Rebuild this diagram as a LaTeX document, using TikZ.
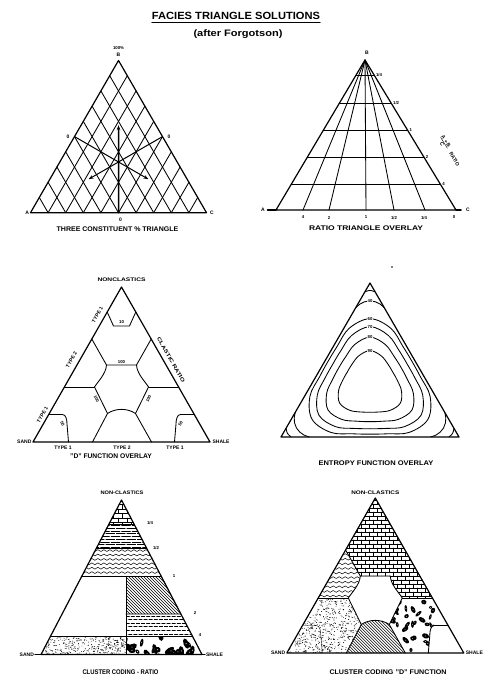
\documentclass[tikz,border=0pt]{standalone}
\usepackage{fontspec}
\setmainfont{Liberation Sans}
\usepackage{graphicx}
\usetikzlibrary{calc,arrows.meta,decorations.pathmorphing}
\newcommand\fitt[3]{\resizebox{#1pt}{#2pt}{\bfseries #3}}
\newcommand\fitn[3]{\resizebox{#1pt}{#2pt}{#3}}
\newcommand\brickrows[6]{%
  \foreach \k in {0,...,#4}{%
    \draw[pat] (#1,{#3+\k*#5}) -- (#2,{#3+\k*#5});
    \pgfmathsetmacro\off{mod(\k,2)*#6/2}%
    \foreach \j in {0,...,26}{%
      \draw[pat] ({#1+\off+\j*#6},{#3+\k*#5}) -- ++(0,#5);
    }%
  }}
\newcommand\wavy[5]{%
  \foreach \k in {0,...,#4}{%
    \draw[pat,line width=0.5pt,decorate,decoration={snake,amplitude=0.9pt,segment length=6pt}]
      (#1,{#3+\k*#5}) -- (#2,{#3+\k*#5});
  }}
\newcommand\dashrows[7]{%
  \foreach \k in {0,...,#4}{%
    \pgfmathsetmacro\ph{mod(\k,2)*(#6+#7)/2}%
    \draw[pat,line width=0.5pt,dash pattern=on #6pt off #7pt,dash phase=\ph pt]
      (#1,{#3+\k*#5}) -- (#2,{#3+\k*#5});
  }}
\newcommand\hatchnw[5]{%
  \foreach \k in {0,...,#3}{%
    \draw[pat,line width=0.5pt] ({#1+\k*#4},#2) -- ++(#5,#5);
  }}
\newcommand\stip[6]{%
  \foreach \k in {1,...,#5}{%
    \pgfmathsetmacro\px{#1+rnd*(#2-#1)}%
    \pgfmathsetmacro\py{#3+rnd*(#4-#3)}%
    \fill (\px,\py) circle (0.45);
  }%
  \foreach \k in {1,...,#6}{%
    \pgfmathsetmacro\px{#1+rnd*(#2-#1)}%
    \pgfmathsetmacro\py{#3+rnd*(#4-#3)}%
    \draw[pat] (\px,\py) -- ++(1.6,0.6);
  }}
\newcommand\blobs[6]{%
  \foreach \k in {1,...,#5}{%
    \pgfmathsetmacro\px{#1+rnd*(#2-#1)}%
    \pgfmathsetmacro\py{#3+rnd*(#4-#3)}%
    \pgfmathsetmacro\rx{(1.5+rnd*2.3)*#6}%
    \pgfmathsetmacro\ry{(0.9+rnd*1.3)*#6}%
    \pgfmathsetmacro\an{rnd*180}%
    \fill[rotate around={\an:(\px,\py)}] (\px,\py) ellipse [x radius=\rx, y radius=\ry];
    \fill[white] (\px,\py) circle ({0.35*#6});
  }}
\newcommand\dgeom[1]{%
  \coordinate (#1T) at (0,-155); \coordinate (#1L) at (-88.5,0); \coordinate (#1R) at (88.5,0);
  \coordinate (#1tl) at (-14.3,-130); \coordinate (#1tli) at (-8,-116);
  \coordinate (#1tri) at (8,-116); \coordinate (#1tr) at (14.3,-130);
  \coordinate (#1s1) at (-29.7,-103); \coordinate (#1h1) at (-15,-77);
  \coordinate (#1h2) at (15,-77); \coordinate (#1r1) at (29.7,-103);
  \coordinate (#1s2) at (-57.1,-55); \coordinate (#1h3) at (-27,-55);
  \coordinate (#1h4) at (27,-55); \coordinate (#1r2) at (57.1,-55);
  \coordinate (#1h5) at (-14,-28.5); \coordinate (#1h6) at (14,-28.5);
  \coordinate (#1b5) at (-29,0); \coordinate (#1b6) at (30,0);
  \coordinate (#1s3) at (-72.8,-27.5); \coordinate (#1c1) at (-59,-27.5);
  \coordinate (#1c2) at (-54.5,-18); \coordinate (#1c3) at (-53,0);
  \coordinate (#1r3) at (72.8,-27.5); \coordinate (#1c4) at (59,-27.5);
  \coordinate (#1c5) at (54.5,-18); \coordinate (#1c6) at (53,0);
}
% rounded-triangle contour in polar samples: radii at 0,20,40,60 deg from a vertex
\newcommand\entloop[4]{\draw[gridl] plot[smooth cycle, tension=0.6] coordinates {(10:#2) (30:#1) (50:#2) (70:#3) (90:#4) (110:#3) (130:#2) (150:#1) (170:#2) (190:#3) (210:#4) (230:#3) (250:#2) (270:#1) (290:#2) (310:#3) (330:#4) (350:#3)};}
\newcommand\entarc[3]{%
  \draw[gridl] plot[smooth,tension=0.7] coordinates {
    (barycentric cs:#1=0.84,#2=0.16,#3=0.0001)
    (barycentric cs:#1=0.864,#2=0.1236,#3=0.0124)
    (barycentric cs:#1=0.878,#2=0.0915,#3=0.0305)
    (barycentric cs:#1=0.884,#2=0.058,#3=0.058)
    (barycentric cs:#1=0.878,#2=0.0305,#3=0.0915)
    (barycentric cs:#1=0.864,#2=0.0124,#3=0.1236)
    (barycentric cs:#1=0.84,#2=0.0001,#3=0.16)};
  \draw[gridl] (barycentric cs:#1=0.943,#2=0.057,#3=0.0001) .. controls (barycentric cs:#1=0.955,#2=0.0225,#3=0.0225) .. (barycentric cs:#1=0.943,#2=0.0001,#3=0.057);
}
\begin{document}
\begin{tikzpicture}[x=1pt,y=-1pt,line join=round,line cap=round,
  triline/.style={line width=1.2pt},
  gridl/.style={line width=0.85pt},
  pat/.style={line width=0.4pt},
  lbl/.style={font=\fontsize{5}{5}\selectfont\bfseries,inner sep=0.4pt},
  num/.style={font=\fontsize{4.3}{4.3}\selectfont\bfseries,inner sep=0.3pt},
  arrowtip/.style={-{Stealth[length=5pt,width=3.6pt]}},
]
\useasboundingbox (0,0) rectangle (490,682);
\fill[white] (0,0) rectangle (490,682);
\pgfmathsetseed{4711}

% ---------- title ----------
\node[inner sep=0pt,anchor=base] (title) at (236,20) {\fitt{168}{7.3}{FACIES TRIANGLE SOLUTIONS}};
\draw[line width=0.8pt] ($(title.base west)+(0,2)$) -- ($(title.base east)+(0,2)$);
\node[inner sep=0pt,anchor=base] (subtitle) at (238,36.5) {\fitt{89}{6.8}{(after Forgotson)}};

% ---------- panel 1: three constituent triangle ----------
\coordinate (aP) at (118.5,60.5);
\coordinate (aA) at (30.5,212.7);
\coordinate (aC) at (206.5,212.7);
\foreach \i in {1,...,9}{
  \draw[gridl] ($(aA)!\i/10!(aC)$) -- ($(aP)!\i/10!(aC)$);
  \draw[gridl] ($(aA)!\i/10!(aC)$) -- ($(aA)!\i/10!(aP)$);
}
\draw[triline] (aA) -- (aP) -- (aC) -- cycle;
\coordinate (aMB) at ($(aA)!0.5!(aC)$);
\coordinate (aML) at ($(aA)!0.5!(aP)$);
\coordinate (aMR) at ($(aP)!0.5!(aC)$);
\coordinate (aEB) at ($(aMB)!0.575!(aP)$);
\coordinate (aEL) at ($(aML)!0.56!(aC)$);
\coordinate (aER) at ($(aMR)!0.56!(aA)$);
\draw[arrowtip,line width=1.5pt] (aMB) -- (aEB);
\draw[arrowtip,line width=1pt] (aML) -- (aEL);
\draw[arrowtip,line width=1pt] (aMR) -- (aER);
\node[num] (a100) at (118.5,48) {100\%};
\node[lbl] (aBt) at (118.5,55) {B};
\node[lbl] (a0l) at (68,136.5) {0};
\node[lbl] (a0r) at (169,136.5) {0};
\node[lbl] (a0b) at (120.5,219.5) {0};
\node[lbl] (aAl) at (27.3,213) {A};
\node[lbl] (aCl) at (212,213) {C};
\node[inner sep=0pt] (acap) at (117.5,229) {\fitt{121.6}{4.7}{THREE CONSTITUENT \% TRIANGLE}};

% ---------- panel 2: ratio triangle ----------
\coordinate (bP) at (365,60);
\coordinate (bA) at (276,210);
\coordinate (bC) at (456,210);
\foreach \x in {303,329,366,394,425} \draw[gridl] (bP) -- (\x,210);
\coordinate (b1l) at ($(bP)!0.1!(bA)$);   \coordinate (b1r) at ($(bP)!0.1!(bC)$);
\coordinate (b2l) at ($(bP)!0.287!(bA)$); \coordinate (b2r) at ($(bP)!0.287!(bC)$);
\coordinate (b3l) at ($(bP)!0.467!(bA)$); \coordinate (b3r) at ($(bP)!0.467!(bC)$);
\coordinate (b4l) at ($(bP)!0.647!(bA)$); \coordinate (b4r) at ($(bP)!0.647!(bC)$);
\coordinate (b5l) at ($(bP)!0.827!(bA)$); \coordinate (b5r) at ($(bP)!0.827!(bC)$);
\draw[gridl] (b1l) -- (b1r); \draw[gridl] (b2l) -- (b2r); \draw[gridl] (b3l) -- (b3r);
\draw[gridl] (b4l) -- (b4r); \draw[gridl] (b5l) -- (b5r);
\draw[triline] (bA) -- (bP) -- (bC) -- cycle;
\draw[line width=1.5pt] (267.5,210) -- (bA);
\draw[line width=1.5pt] (bC) -- (461,210);
\node[num,anchor=west] (bq1) at ($(b1r)+(1.5,0)$) {1/4};
\node[num,anchor=west] (bq2) at ($(b2r)+(1.5,0)$) {1/2};
\node[num,anchor=west] (bq3) at ($(b3r)+(1.5,0)$) {1};
\node[num,anchor=west] (bq4) at ($(b4r)+(1.5,0)$) {2};
\node[num,anchor=west] (bq5) at ($(b5r)+(1.5,0)$) {4};
\node[num] (bx1) at (303,217.5) {4};
\node[num] (bx2) at (329,217.5) {2};
\node[num] (bx3) at (366,217.5) {1};
\node[num] (bx4) at (394,217.5) {1/2};
\node[num] (bx5) at (424,217.5) {1/4};
\node[num] (bx6) at (454,217.5) {0};
\node[lbl] (bAl) at (263,210) {A};
\node[lbl] (bCl) at (468,210) {C};
\node[lbl] (bBt) at (367,52.5) {B};
\node[lbl,rotate=-58.5] (bratio) at (449,151) {$\frac{\mbox{A + B}}{\mbox{C}}$\hspace{4pt}RATIO};
\node[inner sep=0pt] (bcap) at (366,228.3) {\fitt{114}{4.7}{RATIO TRIANGLE OVERLAY}};

% ---------- panel 3: D function overlay ----------
\begin{scope}[shift={(121.5,442)}]
  \dgeom{d}
  \draw[gridl] (dtl) -- (dtli) -- (dtri) -- (dtr);
  \draw[gridl] (ds1) -- (dh1) -- (dh2) -- (dr1);
  \draw[gridl] (dh1) .. controls +(-0.5,9) and +(3,-5) .. (dh3) -- (dh5)
     .. controls +(8,-5.5) and +(-8,-5.5) .. (dh6) -- (dh4)
     .. controls +(-3,-5) and +(0.5,9) .. (dh2);
  \draw[gridl] (ds2) -- (dh3);
  \draw[gridl] (dh4) -- (dr2);
  \draw[gridl] (dh5) -- (db5);
  \draw[gridl] (dh6) -- (db6);
  \draw[gridl] (ds3) -- (dc1) .. controls +(3.5,0) and +(0,-4) .. (dc2) -- (dc3);
  \draw[gridl] (dr3) -- (dc4) .. controls +(-3.5,0) and +(0,-4) .. (dc5) -- (dc6);
  \draw[triline] (dL) -- (dT) -- (dR) -- cycle;
  \node[lbl] (dNC) at (0,-162.5) {\fitt{48}{3.6}{NONCLASTICS}};
  \node[lbl,rotate=60.3] (dty1) at (-24,-127) {TYPE 1};
  \node[lbl,rotate=60.3] (dty2) at (-50,-82) {TYPE 2};
  \node[lbl,rotate=60.3] (dty3) at (-79,-27) {TYPE 1};
  \node[lbl] (dty4) at (-58.5,5.5) {TYPE 1};
  \node[lbl] (dty5) at (0.5,5.5) {TYPE 2};
  \node[lbl] (dty6) at (53.5,5.5) {TYPE 1};
  \node[lbl,rotate=-60.3] (dcr) at (49.5,-82) {\fitt{51}{3.6}{CLASTIC RATIO}};
  \node[lbl,anchor=east] (dsand) at (-89.5,0) {SAND};
  \node[lbl,anchor=west] (dshale) at (90.5,0) {SHALE};
  \node[num] (dn10) at (0,-119.5) {10};
  \node[num] (dn100a) at (0,-80) {100};
  \node[num,rotate=-64] (dn100b) at (-25,-43) {100};
  \node[num,rotate=64] (dn100c) at (27,-43) {100};
  \node[num,rotate=-60] (dn50a) at (-59,-18) {50};
  \node[num,rotate=60] (dn50b) at (59,-18) {50};
  \node[inner sep=0pt] (dcap) at (-10.5,14.5) {\fitt{81.7}{4.7}{"D" FUNCTION OVERLAY}};
\end{scope}

% ---------- panel 4: entropy ----------
\coordinate (eT) at (370,283);
\coordinate (eL) at (281,437);
\coordinate (eR) at (459,437);
\begin{scope}
  \clip (eT) -- (eL) -- (eR) -- cycle;
  \begin{scope}[shift={(370,385.67)}]
    \entloop{35}{32}{28}{26.5}
    \entloop{48.5}{44}{37.8}{36}
    \entloop{59}{53.5}{45.5}{43}
    \entloop{67}{61}{51.2}{48.5}
  \end{scope}
  \entarc{eT}{eL}{eR}
  \entarc{eL}{eR}{eT}
  \entarc{eR}{eT}{eL}
\end{scope}
\draw[triline] (eT) -- (eL) -- (eR) -- cycle;
\node[num,fill=white] (e40) at (370,300.8) {40};
\node[num,fill=white] (e60) at (370,318.7) {60};
\node[num,fill=white] (e70) at (370,326.7) {70};
\node[num,fill=white] (e80) at (370,337.2) {80};
\node[num,fill=white] (e90) at (370,350.7) {90};
\fill (392,267) circle (0.9);
\node[inner sep=0pt] (ecap) at (376,463) {\fitt{115}{4.7}{ENTROPY FUNCTION OVERLAY}};

% ---------- panel 5: cluster coding ratio ----------
\coordinate (gT) at (121.5,500);
\coordinate (gL) at (41,654.5);
\coordinate (gR) at (202,654.5);
\coordinate (g1l) at ($(gT)!0.1573!(gL)$); \coordinate (g1r) at ($(gT)!0.1573!(gR)$);
\coordinate (g2l) at ($(gT)!0.3126!(gL)$); \coordinate (g2r) at ($(gT)!0.3126!(gR)$);
\coordinate (g3l) at ($(gT)!0.4964!(gL)$); \coordinate (g3r) at ($(gT)!0.4964!(gR)$);
\coordinate (g4r) at ($(gT)!0.7379!(gR)$);
\coordinate (g5l) at ($(gT)!0.8848!(gL)$); \coordinate (g5r) at ($(gT)!0.8848!(gR)$);
\coordinate (g3m) at (126,576.7);
\coordinate (g4m) at (126,614);
\coordinate (g5m) at (126,636.7);
\coordinate (gbm) at (126,654.5);
\begin{scope}
  \clip (gT) -- (g1l) -- (g1r) -- cycle;
  \brickrows{100}{145}{500}{6}{4.5}{9}
\end{scope}
\begin{scope}
  \clip (g1l) -- (g1r) -- (g2r) -- (g2l) -- cycle;
  \dashrows{90}{150}{525.6}{9}{2.7}{9}{1.5}
\end{scope}
\begin{scope}
  \clip (g2l) -- (g2r) -- (g3r) -- (g3l) -- cycle;
  \wavy{78}{166}{550.6}{6}{4.4}
\end{scope}
\begin{scope}
  \clip (g3m) -- (g3r) -- (g4r) -- (g4m) -- cycle;
  \hatchnw{85}{575}{37}{3}{45}
\end{scope}
\begin{scope}
  \clip (g4m) -- (g4r) -- (g5r) -- (g5m) -- cycle;
  \dashrows{126}{196}{615.8}{6}{3.6}{3.5}{1.6}
\end{scope}
\begin{scope}
  \clip (g5l) -- (g5m) -- (gbm) -- (gL) -- cycle;
  \stip{40}{126}{636}{655}{260}{70}
\end{scope}
\begin{scope}
  \clip (g5m) -- (g5r) -- (gR) -- (gbm) -- cycle;
  \blobs{124}{204}{635}{656}{24}{1.45}
\end{scope}
\draw[gridl] (g1l) -- (g1r);
\draw[gridl] (g2l) -- (g2r);
\draw[gridl] (g3l) -- (g3r);
\draw[gridl] (g5l) -- (g5r);
\draw[gridl] (g4m) -- (g4r);
\draw[gridl] (g3m) -- (gbm);
\draw[triline] (gL) -- (gT) -- (gR) -- cycle;
\draw[triline] (35,654.5) -- (gL);
\draw[triline] (gR) -- (205,654.5);
\node[num] (gq1) at (150,523) {1/4};
\node[num] (gq2) at (156,548) {1/2};
\node[num] (gq3) at (174,576) {1};
\node[num] (gq4) at (195,613) {2};
\node[num] (gq5) at (200,635.5) {4};
\node[lbl] (gNC) at (122,493) {\fitt{43}{3.5}{NON-CLASTICS}};
\node[lbl,anchor=east] (gsand) at (34.5,654.5) {SAND};
\node[lbl,anchor=west] (gshale) at (205.5,654.5) {SHALE};
\node[inner sep=0pt] (gcap) at (120.5,671.7) {\fitt{76}{4.7}{CLUSTER CODING - RATIO}};

% ---------- panel 6: cluster coding D function ----------
\begin{scope}[shift={(375.3,653)}]
  \dgeom{f}
  \begin{scope}
    \clip (fT) -- (fs1) -- (fh1) -- (fh2) .. controls +(0.5,9) and +(-3,-5) .. (fh4) -- (fr2) -- cycle;
    \brickrows{-90}{90}{-157}{27}{4}{8}
  \end{scope}
  \begin{scope}
    \clip (fs1) -- (fh1) .. controls +(-0.5,9) and +(3,-5) .. (fh3) -- (fs2) -- cycle;
    \wavy{-62}{-10}{-103}{11}{4.6}
  \end{scope}
  \begin{scope}
    \clip (fs2) -- (fh3) -- (fh5) -- (fb5) -- (fL) -- cycle;
    \stip{-89}{-13}{-56}{0}{520}{150}
  \end{scope}
  \begin{scope}
    \clip (fb5) -- (fh5) .. controls +(8,-5.5) and +(-8,-5.5) .. (fh6) -- (fb6) -- cycle;
    \hatchnw{-70}{-36}{33}{3}{40}
  \end{scope}
  \begin{scope}
    \clip (fh4) -- (fr2) -- (fr3) -- (fc4) .. controls +(-3.5,0) and +(0,-4) .. (fc5) -- (fc6) -- (fb6) -- (fh6) -- cycle;
    \blobs{8}{76}{-57}{1}{60}{1.15}
  \end{scope}
  \draw[gridl] (fs1) -- (fh1);
  \draw[gridl] (fh1) -- (fh2) .. controls +(0.5,9) and +(-3,-5) .. (fh4) -- (fh6)
     .. controls +(-8,-5.5) and +(8,-5.5) .. (fh5) -- (fh3)
     .. controls +(3,-5) and +(-0.5,9) .. (fh1);
  \draw[gridl] (fs2) -- (fh3);
  \draw[gridl] (fh4) -- (fr2);
  \draw[gridl] (fh5) -- (fb5);
  \draw[gridl] (fh6) -- (fb6);
  \draw[gridl] (fr3) -- (fc4) .. controls +(-3.5,0) and +(0,-4) .. (fc5) -- (fc6);
  \draw[pat] (fs3) -- (fc1) .. controls +(3.5,0) and +(0,-4) .. (fc2) -- (fc3);
  \draw[triline] (fL) -- (fT) -- (fR) -- cycle;
  \node[lbl] (fNC) at (0,-160.5) {\fitt{48}{3.6}{NON-CLASTICS}};
  \node[lbl,anchor=east] (fsand) at (-89.5,0) {SAND};
  \node[lbl,anchor=west] (fshale) at (90,0) {SHALE};
  \node[inner sep=0pt] (fcap) at (12.7,19.5) {\fitt{117}{4.7}{CLUSTER CODING "D" FUNCTION}};
\end{scope}
\end{tikzpicture}
\end{document}
